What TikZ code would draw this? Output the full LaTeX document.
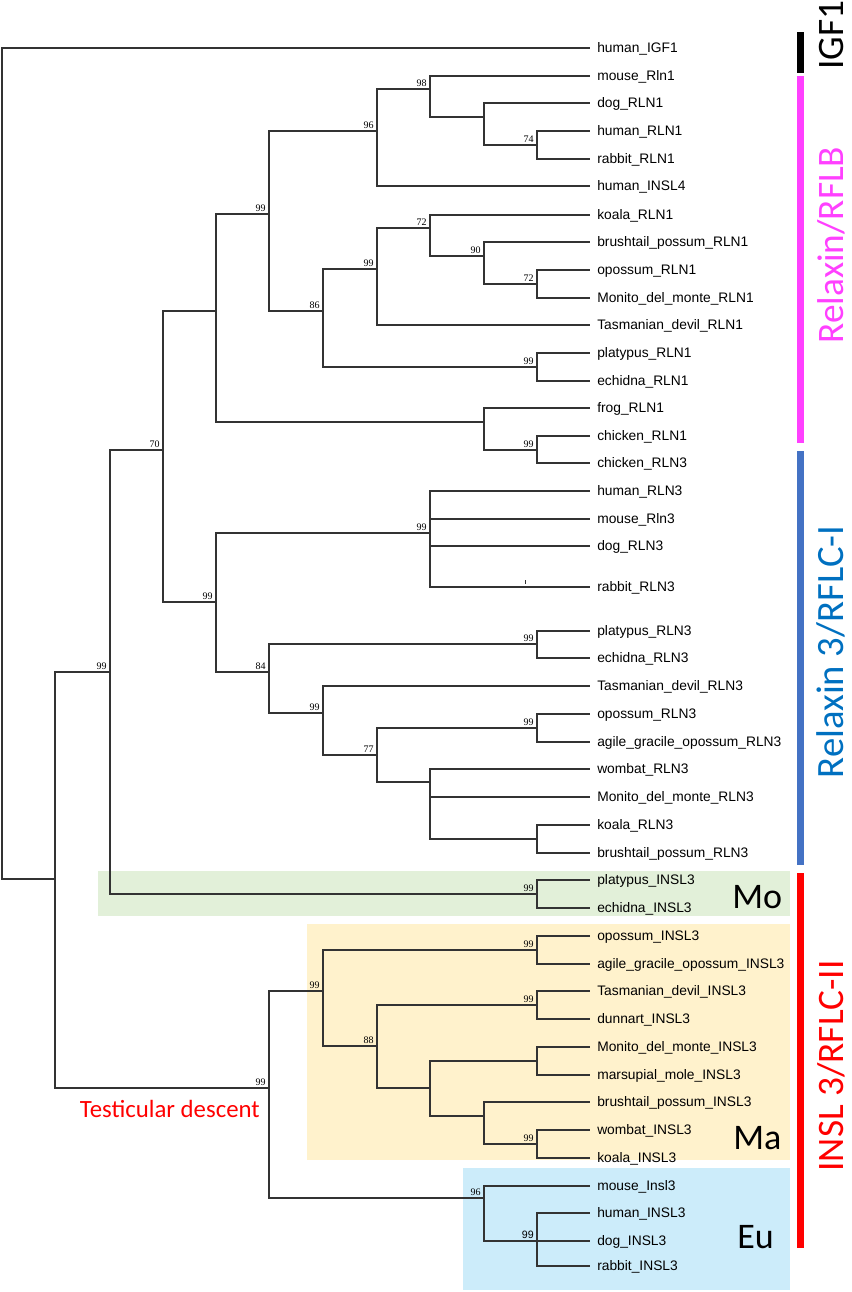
\documentclass[tikz,border=0pt]{standalone}
\usepackage{fontspec}
\setmainfont{Liberation Sans}
\newfontfamily\serifnum{Liberation Serif}
\newfontfamily\calibri{Carlito}
\usepackage{tikz}
\definecolor{rflbpink}{HTML}{FF40FF}
\definecolor{rflcbar}{HTML}{4472C4}
\definecolor{rflctext}{HTML}{0070C0}
\definecolor{mogreen}{HTML}{E2F0D9}
\definecolor{maorange}{HTML}{FFF2CC}
\definecolor{eublue}{HTML}{CCECFA}
\definecolor{treegray}{HTML}{333333}
\tikzstyle{branch}=[draw=treegray,line width=0.85pt]
\tikzstyle{leaf}=[anchor=west,inner xsep=5.25pt,inner ysep=0pt,text height=7.4pt,text depth=0pt,font=\fontsize{10.35}{12}\selectfont]
\tikzstyle{boot}=[anchor=base east,inner sep=0pt,xshift=-2.25pt,yshift=2.25pt,font=\serifnum\fontsize{7.5}{9}\selectfont]
\tikzstyle{groupbar}=[line width=5.25pt]
\tikzstyle{grouplabel}=[rotate=90,anchor=base,inner sep=0pt,font=\calibri\fontsize{28}{34}\selectfont]
\tikzstyle{cladelabel}=[anchor=base west,inner sep=0pt,font=\calibri\fontsize{27}{32}\selectfont]

\begin{document}
\begin{tikzpicture}[x=0.75pt,y=-0.75pt]
    \useasboundingbox (0,0) rectangle (851,1292);
    % clade boxes
    \fill[mogreen] (98,871) rectangle (790,916);
    \fill[maorange] (307,924) rectangle (790,1160);
    \fill[eublue] (463,1168) rectangle (790,1290);
    % leaves
    \foreach \n/\y/\name in {1/48/human\_IGF1, 2/76/mouse\_Rln1, 3/103/dog\_RLN1,
        4/131/human\_RLN1, 5/159/rabbit\_RLN1, 6/186/human\_INSL4, 7/215/koala\_RLN1,
        8/242/brushtail\_possum\_RLN1, 9/270/opossum\_RLN1, 10/298/Monito\_del\_monte\_RLN1,
        11/325/Tasmanian\_devil\_RLN1, 12/353/platypus\_RLN1, 13/381/echidna\_RLN1,
        14/408/frog\_RLN1, 15/436/chicken\_RLN1, 16/463/chicken\_RLN3, 17/491/human\_RLN3,
        18/519/mouse\_Rln3, 19/546/dog\_RLN3, 20/587/rabbit\_RLN3, 21/631/platypus\_RLN3,
        22/658/echidna\_RLN3, 23/686/Tasmanian\_devil\_RLN3, 24/714/opossum\_RLN3,
        25/742/agile\_gracile\_opossum\_RLN3, 26/769/wombat\_RLN3, 27/797/Monito\_del\_monte\_RLN3,
        28/825/koala\_RLN3, 29/853/brushtail\_possum\_RLN3, 30/880/platypus\_INSL3,
        31/908/echidna\_INSL3, 32/936/opossum\_INSL3, 33/964/agile\_gracile\_opossum\_INSL3,
        34/991/Tasmanian\_devil\_INSL3, 35/1019/dunnart\_INSL3, 36/1047/Monito\_del\_monte\_INSL3,
        37/1075/marsupial\_mole\_INSL3, 38/1102/brushtail\_possum\_INSL3, 39/1130/wombat\_INSL3,
        40/1158/koala\_INSL3, 41/1186/mouse\_Insl3, 42/1213/human\_INSL3, 43/1241/dog\_INSL3,
        44/1266/rabbit\_INSL3}
        \node[leaf] (t\n) at (590,\y) {\name};
    % internal nodes
    \foreach \v/\px/\py in {root/2/463, A/55/879, B/110/672, C/269/1088, D/163/450,
        E/216/311, F/216/602, G/269/214, H/484/422, I/537/450, J/377/131,
        K/323/311, L/430/89, M/484/117, N/537/145, O/377/269, P/537/367,
        Q/430/228, R/484/256, S/537/284, T/430/533, U/269/672, V/537/644,
        W/323/713, X/377/755, Y/537/728, Z/430/782, AA/537/839, MO/537/894,
        BB/323/991, CC/484/1198, EE/537/950, FF/377/1046, GG/537/1005,
        HH/430/1088, II/537/1061, JJ/484/1116, KK/537/1144, DD/537/1241}
        \coordinate (\v) at (\px,\py);
    % branches
    \foreach \a/\b in {root/t1.west, root/A, A/B, A/C, B/D, B/MO, D/E, D/F, E/G, E/H,
        G/J, G/K, J/L, J/t6.west, L/t2.west, L/M, M/t3.west, M/N, N/t4.west, N/t5.west,
        K/O, K/P, O/Q, O/t11.west, Q/t7.west, Q/R, R/t8.west, R/S, S/t9.west, S/t10.west,
        P/t12.west, P/t13.west, H/t14.west, H/I, I/t15.west, I/t16.west,
        F/T, F/U, T/t17.west, T/t18.west, T/t19.west, T/t20.west, U/V, U/W,
        V/t21.west, V/t22.west, W/t23.west, W/X, X/Y, X/Z, Y/t24.west, Y/t25.west,
        Z/t26.west, Z/t27.west, Z/AA, AA/t28.west, AA/t29.west, MO/t30.west, MO/t31.west,
        C/BB, C/CC, BB/EE, BB/FF, EE/t32.west, EE/t33.west, FF/GG, FF/HH,
        GG/t34.west, GG/t35.west, HH/II, HH/JJ, II/t36.west, II/t37.west,
        JJ/t38.west, JJ/KK, KK/t39.west, KK/t40.west, CC/t41.west, CC/DD,
        DD/t42.west, DD/t43.west, DD/t44.west}
        \path[branch] (\a) |- (\b);
    \draw[treegray,line width=0.4pt] (525,580) -- (525,584);
    % bootstrap values
    \foreach \v/\bs in {B/99, D/70, F/99, G/99, J/96, L/98, N/74, K/86, O/99, Q/72,
        R/90, S/72, P/99, I/99, T/99, U/84, V/99, W/99, X/77, Y/99, MO/99, C/99,
        BB/99, EE/99, FF/88, GG/99, KK/99, CC/96}
        \node[boot] (b\v) at (\v) {\bs};
    \node[boot,font=\fontsize{8}{9}\selectfont] (bDD) at (DD) {99};
    % group bars and labels
    \draw[groupbar] (800.5,32) -- (800.5,73);
    \draw[groupbar,rflbpink] (800.5,76) -- (800.5,443);
    \draw[groupbar,rflcbar] (800.5,451) -- (800.5,865);
    \draw[groupbar,red] (800.5,873) -- (800.5,1248);
    \node[grouplabel] (igf) at (843,35) {IGF1};
    \node[grouplabel,text=rflbpink] (rflb) at (843,245) {Relaxin/RFLB};
    \node[grouplabel,text=rflctext,font=\calibri\fontsize{29}{34}\selectfont] (rflc1) at (843,652) {Relaxin 3/RFLC-I};
    \node[grouplabel,text=red] (rflc2) at (843,1066) {INSL 3/RFLC-II};
    \node[cladelabel] (mo) at (732,908) {Mo};
    \node[cladelabel] (ma) at (733,1149) {Ma};
    \node[cladelabel] (eu) at (737,1248) {Eu};
    \node[anchor=base east,inner sep=0pt,text=red,font=\calibri\fontsize{18.6}{22}\selectfont] (descent) at (260,1117) {Testicular descent};
\end{tikzpicture}
\end{document}
